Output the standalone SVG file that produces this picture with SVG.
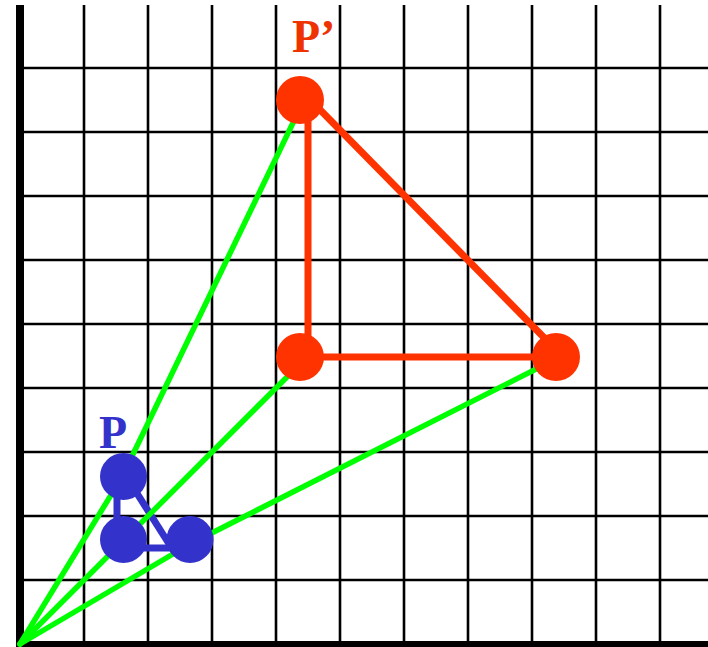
<svg xmlns="http://www.w3.org/2000/svg" width="708" height="647" viewBox="0 0 708 647">
<style>
.grid line{stroke:#000;stroke-width:2.6}
.axis{stroke:#000;fill:none}
.red{stroke:#ff3300;stroke-width:7;fill:none;stroke-linecap:butt}
.blue{stroke:#3333cc;stroke-width:7;fill:none}
.ray{stroke:#00ff00;stroke-width:5.5;fill:none;stroke-linejoin:round;stroke-linecap:round}
.rdot{fill:#ff3300}
.bdot{fill:#3333cc}
.lbl{font-family:"Liberation Serif","Times New Roman",serif;font-weight:bold;font-size:46px}
</style>
<rect width="708" height="647" fill="#fff"/>
<g class="grid" id="grid">
<line x1="84" y1="5" x2="84" y2="644"/>
<line x1="148" y1="5" x2="148" y2="644"/>
<line x1="212" y1="5" x2="212" y2="644"/>
<line x1="276" y1="5" x2="276" y2="644"/>
<line x1="340" y1="5" x2="340" y2="644"/>
<line x1="404" y1="5" x2="404" y2="644"/>
<line x1="468" y1="5" x2="468" y2="644"/>
<line x1="532" y1="5" x2="532" y2="644"/>
<line x1="596" y1="5" x2="596" y2="644"/>
<line x1="660" y1="5" x2="660" y2="644"/>
<line x1="20" y1="68" x2="708" y2="68"/>
<line x1="20" y1="132" x2="708" y2="132"/>
<line x1="20" y1="196" x2="708" y2="196"/>
<line x1="20" y1="260" x2="708" y2="260"/>
<line x1="20" y1="324" x2="708" y2="324"/>
<line x1="20" y1="388" x2="708" y2="388"/>
<line x1="20" y1="452" x2="708" y2="452"/>
<line x1="20" y1="516" x2="708" y2="516"/>
<line x1="20" y1="580" x2="708" y2="580"/>
</g>
<g id="axes">
<line class="axis" x1="20" y1="5" x2="20" y2="647" stroke-width="8"/>
<line class="axis" x1="16" y1="644" x2="708" y2="644" stroke-width="6"/>
</g>
<g id="connectors">
<line class="red" x1="308" y1="100" x2="308" y2="357"/>
<line class="red" x1="300" y1="357" x2="556" y2="357"/>
<line class="red" x1="308" y1="97.5" x2="556" y2="349.7"/>
<line class="blue" x1="117" y1="476" x2="117" y2="548"/>
<line class="blue" x1="117" y1="548" x2="190" y2="548"/>
<line class="blue" x1="126" y1="476" x2="171" y2="547"/>
<polyline class="ray" points="20,644 122,477 304,100"/>
<polyline class="ray" points="20,644 300,364"/>
<polyline class="ray" points="20,644 190,544 556,359"/>
</g>
<g id="P-prime-top"><circle class="rdot" cx="300" cy="100" r="24"/></g>
<g id="P-prime-left"><circle class="rdot" cx="300" cy="357" r="24"/></g>
<g id="P-prime-right"><circle class="rdot" cx="556" cy="357" r="24"/></g>
<g id="P-top"><circle class="bdot" cx="123.5" cy="476.5" r="23.5"/></g>
<g id="P-left"><circle class="bdot" cx="123.5" cy="539.5" r="23.5"/></g>
<g id="P-right"><circle class="bdot" cx="190" cy="539.5" r="23.5"/></g>
<g id="label-P-prime"><text class="lbl" x="292" y="52" fill="#ee3300">P’</text></g>
<g id="label-P"><text class="lbl" x="99" y="448" fill="#3333cc">P</text></g>
</svg>
